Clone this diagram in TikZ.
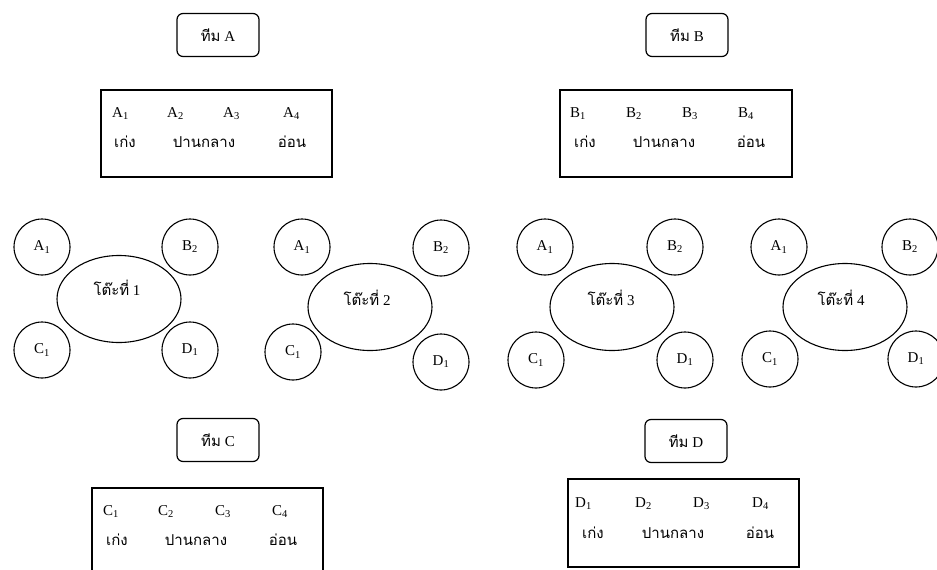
\documentclass[tikz,border=0pt]{standalone}
\usepackage{fontspec}
\setmainfont{Liberation Serif}
\newfontfamily\thaifont[Script=Thai]{Loma}
\usetikzlibrary{shapes.geometric}
\newcommand\myfs{\fontsize{15}{18}\selectfont}
\tikzset{
 x=1pt, y=-1pt,
 every node/.style={font=\myfs},
 teambox/.style={draw, rounded corners=6pt, minimum width=82pt, minimum height=43pt, line width=1.2pt},
 groupbox/.style={draw, minimum width=231pt, minimum height=87pt, line width=1.2pt},
 seat/.style={draw, circle, minimum size=56pt, inner sep=0pt, line width=1.1pt},
 tablebox/.style={draw, ellipse, minimum width=124pt, minimum height=87pt, inner sep=0pt, line width=1.1pt},
 lat/.style={inner sep=0pt, anchor=base west},
 th/.style={inner sep=0pt, anchor=base, font=\myfs\thaifont},
 tbl/.style={inner sep=0pt, anchor=base},
}
\newcommand\subl[2]{#1\textsubscript{#2}}
\begin{document}
\begin{tikzpicture}
\useasboundingbox (0,0) rectangle (937,570);
\clip (0,0) rectangle (937,570);
\fill[white] (0,0) rectangle (937,570);

% Team A
\node[teambox] (tA) at (218,35) {{\thaifont ทีม} A};
\node[groupbox] (gA) at (216.5,133.5) {};
\node[lat] (a1) at (112,117) {\subl{A}{1}};
\node[lat] (a2) at (167,117) {\subl{A}{2}};
\node[lat] (a3) at (223,117) {\subl{A}{3}};
\node[lat] (a4) at (283,117) {\subl{A}{4}};
\node[th] (ak) at (125,147) {เก่ง};
\node[th] (am) at (204,147) {ปานกลาง};
\node[th] (aw) at (292,147) {อ่อน};

% Team B
\node[teambox] (tB) at (687,35) {{\thaifont ทีม} B};
\node[groupbox, minimum width=232pt] (gB) at (676,133.5) {};
\node[lat] (b1) at (570,117) {\subl{B}{1}};
\node[lat] (b2) at (626,117) {\subl{B}{2}};
\node[lat] (b3) at (682,117) {\subl{B}{3}};
\node[lat] (b4) at (738,117) {\subl{B}{4}};
\node[th] (bk) at (585,147) {เก่ง};
\node[th] (bm) at (664,147) {ปานกลาง};
\node[th] (bw) at (751,147) {อ่อน};

% Team C
\node[teambox] (tC) at (218,440) {{\thaifont ทีม} C};
\node[groupbox] (gC) at (207.5,531.5) {};
\node[lat] (c1) at (103,515) {\subl{C}{1}};
\node[lat] (c2) at (158,515) {\subl{C}{2}};
\node[lat] (c3) at (215,515) {\subl{C}{3}};
\node[lat] (c4) at (272,515) {\subl{C}{4}};
\node[th] (ck) at (117,545) {เก่ง};
\node[th] (cm) at (196,545) {ปานกลาง};
\node[th] (cw) at (283,545) {อ่อน};

% Team D
\node[teambox] (tD) at (686,441) {{\thaifont ทีม} D};
\node[groupbox, minimum height=88pt] (gD) at (683.5,523) {};
\node[lat] (d1) at (575,507) {\subl{D}{1}};
\node[lat] (d2) at (635,507) {\subl{D}{2}};
\node[lat] (d3) at (693,507) {\subl{D}{3}};
\node[lat] (d4) at (752,507) {\subl{D}{4}};
\node[th] (dk) at (593,538) {เก่ง};
\node[th] (dm) at (673,538) {ปานกลาง};
\node[th] (dw) at (760,538) {อ่อน};

% Table 1
\node[tablebox] (t1) at (119,299) {};
\node[tbl] (t1l) at (117,295) {{\thaifont โต๊ะที่} 1};
\node[seat] (t1a) at (42,247) {\subl{A}{1}};
\node[seat] (t1b) at (190,247) {\subl{B}{2}};
\node[seat] (t1c) at (42,350) {\subl{C}{1}};
\node[seat] (t1d) at (190,350) {\subl{D}{1}};

% Table 2
\node[tablebox] (t2) at (370,307) {};
\node[tbl] (t2l) at (367,305) {{\thaifont โต๊ะที่} 2};
\node[seat] (t2a) at (302,247) {\subl{A}{1}};
\node[seat] (t2b) at (441,248) {\subl{B}{2}};
\node[seat] (t2c) at (293,352) {\subl{C}{1}};
\node[seat] (t2d) at (441,362) {\subl{D}{1}};

% Table 3
\node[tablebox] (t3) at (612,307) {};
\node[tbl] (t3l) at (611,305) {{\thaifont โต๊ะที่} 3};
\node[seat] (t3a) at (545,247) {\subl{A}{1}};
\node[seat] (t3b) at (675,247) {\subl{B}{2}};
\node[seat] (t3c) at (536,360) {\subl{C}{1}};
\node[seat] (t3d) at (685,360) {\subl{D}{1}};

% Table 4
\node[tablebox] (t4) at (845,307) {};
\node[tbl] (t4l) at (841,305) {{\thaifont โต๊ะที่} 4};
\node[seat] (t4a) at (779,247) {\subl{A}{1}};
\node[seat] (t4b) at (910,247) {\subl{B}{2}};
\node[seat] (t4c) at (770,359) {\subl{C}{1}};
\node[seat] (t4d) at (916,359) {\subl{D}{1}};
\end{tikzpicture}
\end{document}
